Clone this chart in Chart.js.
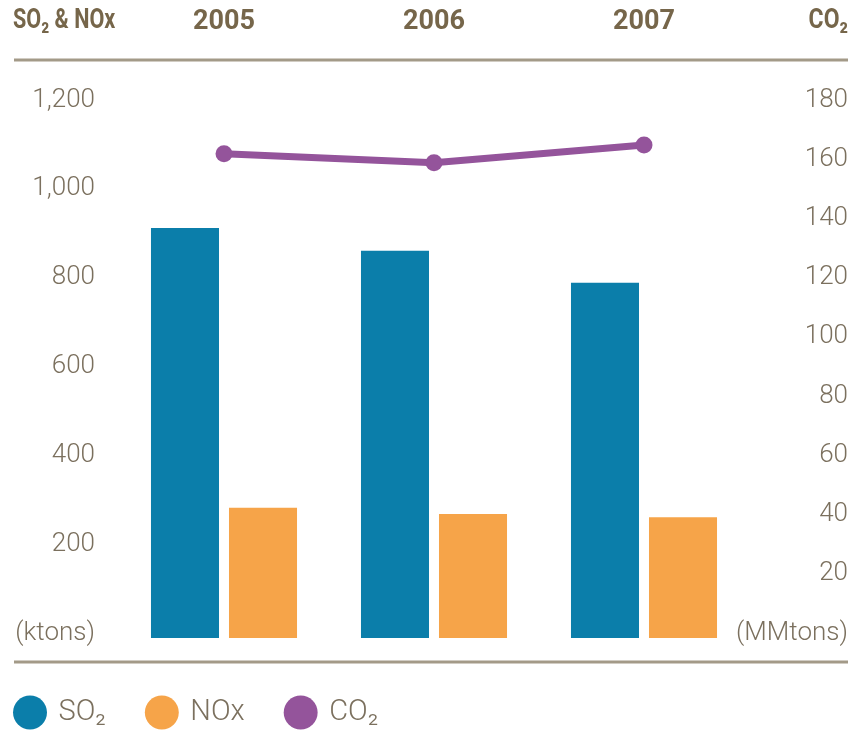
<!DOCTYPE html>
<html>
<head>
<meta charset="utf-8">
<title>Emissions</title>
<script src="https://cdn.jsdelivr.net/npm/chart.js@4.4.0/dist/chart.umd.min.js"></script>
<style>
  html, body { margin: 0; padding: 0; background: #fff; }
  canvas { display: block; }
</style>
</head>
<body>
<canvas id="emissions" width="851" height="731"></canvas>
<script>
const years = ['2005', '2006', '2007'];
const so2 = [923, 872, 800];       // ktons
const nox = [293, 279, 272];       // ktons
const co2 = [163.5, 160.5, 166.5]; // MMtons
const ktonTicks = [0, 200, 400, 600, 800, 1000, 1200];
const mmtonTicks = [0, 20, 40, 60, 80, 100, 120, 140, 160, 180];

const BLUE = '#0b7eaa';
const ORANGE = '#f6a449';
const PURPLE = '#94549b';
const TEXT = '#7b705e';
const HEAD = '#76664a';
const RULE = '#a39a88';

const lightFont = (size) => ({ family: 'Roboto, "Open Sans", sans-serif', size: size, weight: 300 });
const headFont = { family: 'Roboto, sans-serif', size: 27, weight: 'bold' };

// header captions, the unit note under the right axis and the two rules
const frame = {
  id: 'frame',
  afterDraw(chart) {
    const { ctx } = chart;
    const y1 = chart.scales.y1;
    ctx.save();
    ctx.strokeStyle = RULE;
    ctx.lineWidth = 3;
    [60, 662].forEach(y => {
      ctx.beginPath();
      ctx.moveTo(14, y);
      ctx.lineTo(848, y);
      ctx.stroke();
    });

    ctx.fillStyle = TEXT;
    ctx.font = `300 26px ${lightFont(26).family}`;
    ctx.textAlign = 'right';
    ctx.textBaseline = 'middle';
    ctx.fillText('(MMtons)', y1.right, y1.getPixelForValue(0) - 5);

    // condensed bold captions
    ctx.fillStyle = HEAD;
    ctx.font = `bold ${headFont.size}px ${headFont.family}`;
    ctx.textAlign = 'left';
    ctx.setTransform(0.8, 0, 0, 1, 13, 0);
    ctx.fillText('SO₂ & NOx', 0, 21);
    ctx.textAlign = 'right';
    ctx.setTransform(0.85, 0, 0, 1, 848, 0);
    ctx.fillText('CO₂', 0, 21);
    ctx.restore();
  }
};

new Chart(document.getElementById('emissions'), {
  type: 'bar',
  data: {
    labels: years,
    datasets: [
      { type: 'line', label: 'CO₂', data: co2, yAxisID: 'y1', order: 0,
        borderColor: PURPLE, backgroundColor: PURPLE, borderWidth: 7,
        pointRadius: 8.5, pointBackgroundColor: PURPLE, pointBorderWidth: 0,
        pointHoverRadius: 8.5 },
      { label: 'SO₂', data: so2, yAxisID: 'y', order: 1, backgroundColor: BLUE,
        categoryPercentage: 0.743, barPercentage: 0.872 },
      { label: 'NOx', data: nox, yAxisID: 'y', order: 1, backgroundColor: ORANGE,
        categoryPercentage: 0.743, barPercentage: 0.872 }
    ]
  },
  options: {
    responsive: false,
    animation: false,
    layout: { padding: { left: -26, right: 3, top: 0, bottom: -6 } },
    plugins: {
      tooltip: { enabled: false },
      legend: {
        position: 'bottom',
        align: 'start',
        title: { display: true, text: '', font: { size: 10 }, padding: { top: 6, bottom: 0 } },
        labels: {
          usePointStyle: true,
          boxWidth: 28,
          boxHeight: 24,
          padding: 42,
          color: TEXT,
          font: lightFont(29),
          sort: (a, b) => ['SO₂', 'NOx', 'CO₂'].indexOf(a.text) - ['SO₂', 'NOx', 'CO₂'].indexOf(b.text),
          generateLabels: (chart) => Chart.defaults.plugins.legend.labels.generateLabels(chart)
            .map(item => ({ ...item, lineWidth: 0, strokeStyle: item.fillStyle }))
        }
      }
    },
    scales: {
      x: {
        position: 'top',
        grid: { display: false, drawTicks: false },
        border: { display: false },
        ticks: { color: HEAD, font: headFont, padding: 67 },
        afterFit: (s) => { s.height = 105; }
      },
      y: {
        position: 'left',
        min: 0,
        max: 1200,
        grid: { display: false, drawTicks: false },
        border: { display: false },
        afterBuildTicks: (s) => { s.ticks = ktonTicks.map(v => ({ value: v })); },
        ticks: {
          color: TEXT,
          font: lightFont(26),
          padding: 24,
          labelOffset: -5,
          callback: (v) => v === 0 ? '(ktons)' : v.toLocaleString('en-US')
        },
        afterFit: (s) => { s.width = 145; }
      },
      y1: {
        position: 'right',
        min: 0,
        max: 180,
        grid: { display: false, drawTicks: false },
        border: { display: false },
        afterBuildTicks: (s) => { s.ticks = mmtonTicks.map(v => ({ value: v })); },
        ticks: {
          color: TEXT,
          font: lightFont(26),
          crossAlign: 'far',
          labelOffset: -5,
          callback: (v) => v === 0 ? '' : String(v)
        },
        afterFit: (s) => { s.width = 99; }
      }
    }
  },
  plugins: [frame]
});
</script>
</body>
</html>
